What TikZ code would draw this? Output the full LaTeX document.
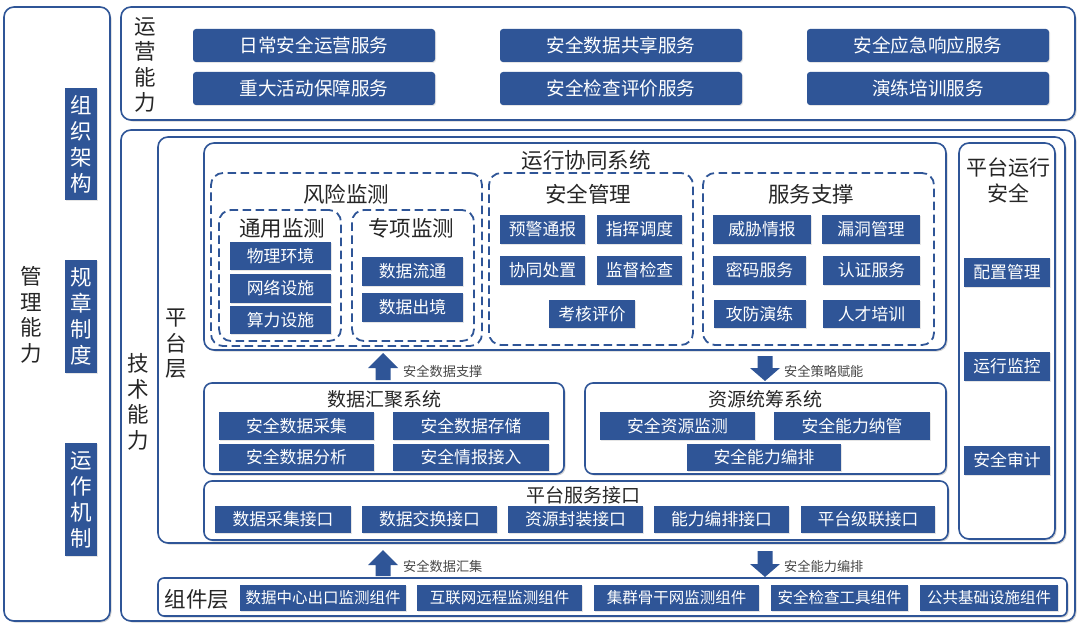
\documentclass[tikz,border=0pt]{standalone}
\usepackage{fontspec}
\setmainfont{Noto Sans CJK SC}
\usetikzlibrary{shadows}
\definecolor{bl}{HTML}{2F5597}
\definecolor{txt}{HTML}{262626}
\begin{document}
\begin{tikzpicture}[x=1pt,y=-1pt,
 cont/.style={draw=bl, line width=1.6pt, fill=white, rounded corners=10pt, inner sep=0pt,
   drop shadow={shadow xshift=1.5pt,shadow yshift=-1.5pt,fill=black!35}},
 dbox/.style={draw=bl, line width=1.8pt, dash pattern=on 8.5pt off 4.5pt, rounded corners=12pt, inner sep=0pt},
 bbox/.style={fill=bl, text=white, inner sep=0pt,
   drop shadow={shadow xshift=1pt,shadow yshift=-1pt,fill=black!25,opacity=0.4}},
 svc/.style={bbox, rounded corners=3pt, minimum width=242pt, minimum height=33pt, font=\fontsize{18.6}{18.6}\selectfont},
 sm/.style={bbox, font=\fontsize{16.8}{16.8}\selectfont},
 cmp/.style={bbox, minimum height=26pt, font=\fontsize{15.5}{15.5}\selectfont},
 vt/.style={align=center, text=txt, inner sep=0pt, font=\fontsize{21.5}{25.5}\selectfont},
 vtw/.style={bbox, align=center, minimum width=32pt, minimum height=112pt, font=\fontsize{21.5}{26}\selectfont},
 ttl/.style={text=txt, inner sep=0pt, font=\fontsize{21.5}{21.5}\selectfont},
 ttlb/.style={text=txt, inner sep=0pt, font=\fontsize{19}{19}\selectfont},
 alab/.style={text=txt!85, anchor=west, inner sep=0pt, font=\fontsize{13.2}{13.2}\selectfont},
 blk/.style={fill=bl}
]
\useasboundingbox (0,0) rectangle (1080,626);
\fill[white] (0,0) rectangle (1080,626);

% ---- left: management
\node[cont, minimum width=106pt, minimum height=614pt] (L) at (57,314) {};
\node[vt] (Lt) at (31,315) {管\\理\\能\\力};
\node[vtw] (m1) at (81,144) {组\\织\\架\\构};
\node[vtw, minimum height=113pt] (m2) at (81,316.5) {规\\章\\制\\度};
\node[vtw, minimum height=113pt] (m3) at (81,499.5) {运\\作\\机\\制};

% ---- top: operations
\node[cont, minimum width=954pt, minimum height=113pt] (T) at (598,63.5) {};
\node[vt] (Tt) at (145,65) {运\\营\\能\\力};
\node[svc] (s1) at (314,45.5) {日常安全运营服务};
\node[svc] (s2) at (621,45.5) {安全数据共享服务};
\node[svc] (s3) at (928,45.5) {安全应急响应服务};
\node[svc] (s4) at (314,88.5) {重大活动保障服务};
\node[svc] (s5) at (621,88.5) {安全检查评价服务};
\node[svc] (s6) at (928,88.5) {演练培训服务};

% ---- technical
\node[cont, minimum width=954pt, minimum height=491pt] (B) at (598,375.5) {};
\node[vt] (Bt) at (138,402) {技\\术\\能\\力};
\node[cont, minimum width=907pt, minimum height=406pt] (P) at (611.5,340) {};
\node[vt] (Pt) at (176,344) {平\\台\\层};

% 运行协同系统
\node[cont, minimum width=742pt, minimum height=207pt] (R) at (575,246.5) {};
\node[ttl] (Rt) at (586,160) {运行协同系统};

\node[dbox, minimum width=271pt, minimum height=173pt] (F) at (346.5,259.5) {};
\node[ttl] (Ft) at (346,194) {风险监测};
\node[dbox, minimum width=122pt, minimum height=131pt] (G) at (280,275.5) {};
\node[ttl] (Gt) at (282,228) {通用监测};
\node[dbox, minimum width=122pt, minimum height=131pt] (H) at (413,275.5) {};
\node[ttl] (Ht) at (411,228) {专项监测};
\node[sm, minimum width=101pt, minimum height=28pt] (g1) at (280.5,256) {物理环境};
\node[sm, minimum width=101pt, minimum height=29pt] (g2) at (280.5,288.5) {网络设施};
\node[sm, minimum width=101pt, minimum height=28pt] (g3) at (280.5,320) {算力设施};
\node[sm, minimum width=101pt, minimum height=29pt] (h1) at (412.5,271.5) {数据流通};
\node[sm, minimum width=101pt, minimum height=29pt] (h2) at (412.5,307.5) {数据出境};

\node[dbox, minimum width=204pt, minimum height=172pt] (M) at (591,259) {};
\node[ttl] (Mt) at (588,194) {安全管理};
\node[sm, minimum width=85pt, minimum height=29pt] (a1) at (542.5,229.5) {预警通报};
\node[sm, minimum width=85pt, minimum height=29pt] (a2) at (639.5,229.5) {指挥调度};
\node[sm, minimum width=85pt, minimum height=29pt] (a3) at (542.5,270.5) {协同处置};
\node[sm, minimum width=85pt, minimum height=29pt] (a4) at (639.5,270.5) {监督检查};
\node[sm, minimum width=86pt, minimum height=28pt] (a5) at (592,314) {考核评价};

\node[dbox, minimum width=231pt, minimum height=172pt] (N) at (818.5,259) {};
\node[ttl] (Nt) at (811,194) {服务支撑};
\node[sm, minimum width=98pt, minimum height=29pt] (b1) at (762,229.5) {威胁情报};
\node[sm, minimum width=98pt, minimum height=29pt] (b2) at (871,229.5) {漏洞管理};
\node[sm, minimum width=93pt, minimum height=29pt] (b3) at (759.5,270.5) {密码服务};
\node[sm, minimum width=97pt, minimum height=29pt] (b4) at (871.5,270.5) {认证服务};
\node[sm, minimum width=92pt, minimum height=28pt] (b5) at (759.5,314) {攻防演练};
\node[sm, minimum width=97pt, minimum height=28pt] (b6) at (871.5,314) {人才培训};

% 平台运行安全
\node[cont, minimum width=96pt, minimum height=396pt] (S) at (1007,341) {};
\node[ttl, align=center, font=\fontsize{21}{26}\selectfont] (St) at (1008,180) {平台运行\\安全};
\node[sm, minimum width=86pt, minimum height=29pt] (c1) at (1007,272.5) {配置管理};
\node[sm, minimum width=86pt, minimum height=29pt] (c2) at (1007,366.5) {运行监控};
\node[sm, minimum width=86pt, minimum height=29pt] (c3) at (1007,460.5) {安全审计};

% arrows between R and D/Z
\coordinate (u1) at (383,353);
\fill[blk] (u1) -- ++(15,15) -- ++(-7.5,0) -- ++(0,12) -- ++(-15,0) -- ++(0,-12) -- ++(-7.5,0) -- cycle;
\node[alab] (u1l) at (403,371) {安全数据支撑};
\coordinate (d1) at (765,381);
\fill[blk] (d1) -- ++(15,-13) -- ++(-7.5,0) -- ++(0,-12) -- ++(-15,0) -- ++(0,12) -- ++(-7.5,0) -- cycle;
\node[alab] (d1l) at (784,371) {安全策略赋能};

% 数据汇聚系统
\node[cont, rounded corners=8pt, minimum width=360pt, minimum height=91pt] (D) at (384,428.5) {};
\node[ttlb] (Dt) at (384,399) {数据汇聚系统};
\node[sm, minimum width=155pt, minimum height=28pt] (e1) at (296.5,426) {安全数据采集};
\node[sm, minimum width=156pt, minimum height=28pt] (e2) at (471,426) {安全数据存储};
\node[sm, minimum width=155pt, minimum height=27pt] (e3) at (296.5,457.5) {安全数据分析};
\node[sm, minimum width=156pt, minimum height=27pt] (e4) at (471,457.5) {安全情报接入};

% 资源统筹系统
\node[cont, rounded corners=8pt, minimum width=361pt, minimum height=91pt] (Z) at (765.5,428.5) {};
\node[ttlb] (Zt) at (765,399) {资源统筹系统};
\node[sm, minimum width=155pt, minimum height=28pt] (f1) at (677.5,426) {安全资源监测};
\node[sm, minimum width=156pt, minimum height=28pt] (f2) at (852,426) {安全能力纳管};
\node[sm, minimum width=154pt, minimum height=27pt] (f3) at (764,457.5) {安全能力编排};

% 平台服务接口
\node[cont, rounded corners=8pt, minimum width=744pt, minimum height=59pt] (I) at (576,510.5) {};
\node[ttlb] (It) at (583,495) {平台服务接口};
\node[sm, minimum width=136pt, minimum height=27pt] (i1) at (283,519.5) {数据采集接口};
\node[sm, minimum width=135pt, minimum height=27pt] (i2) at (429.5,519.5) {数据交换接口};
\node[sm, minimum width=135pt, minimum height=27pt] (i3) at (575.5,519.5) {资源封装接口};
\node[sm, minimum width=135pt, minimum height=27pt] (i4) at (721.5,519.5) {能力编排接口};
\node[sm, minimum width=134pt, minimum height=27pt] (i5) at (868,519.5) {平台级联接口};

% arrows between platform and components
\coordinate (u2) at (383,550);
\fill[blk] (u2) -- ++(15,15) -- ++(-7.5,0) -- ++(0,11) -- ++(-15,0) -- ++(0,-11) -- ++(-7.5,0) -- cycle;
\node[alab] (u2l) at (403,566) {安全数据汇集};
\coordinate (d2) at (765,577);
\fill[blk] (d2) -- ++(15,-13) -- ++(-7.5,0) -- ++(0,-13) -- ++(-15,0) -- ++(0,13) -- ++(-7.5,0) -- cycle;
\node[alab] (d2l) at (784,566) {安全能力编排};

% 组件层
\node[cont, rounded corners=6pt, minimum width=909pt, minimum height=38pt] (C) at (612.5,597) {};
\node[ttl] (Ct) at (197,599) {组件层};
\node[cmp, minimum width=166pt] (k1) at (323,598) {数据中心出口监测组件};
\node[cmp, minimum width=165pt] (k2) at (499.5,598) {互联网远程监测组件};
\node[cmp, minimum width=165pt] (k3) at (676.5,598) {集群骨干网监测组件};
\node[cmp, minimum width=137pt] (k4) at (839.5,598) {安全检查工具组件};
\node[cmp, minimum width=138pt] (k5) at (989,598) {公共基础设施组件};
\end{tikzpicture}
\end{document}
